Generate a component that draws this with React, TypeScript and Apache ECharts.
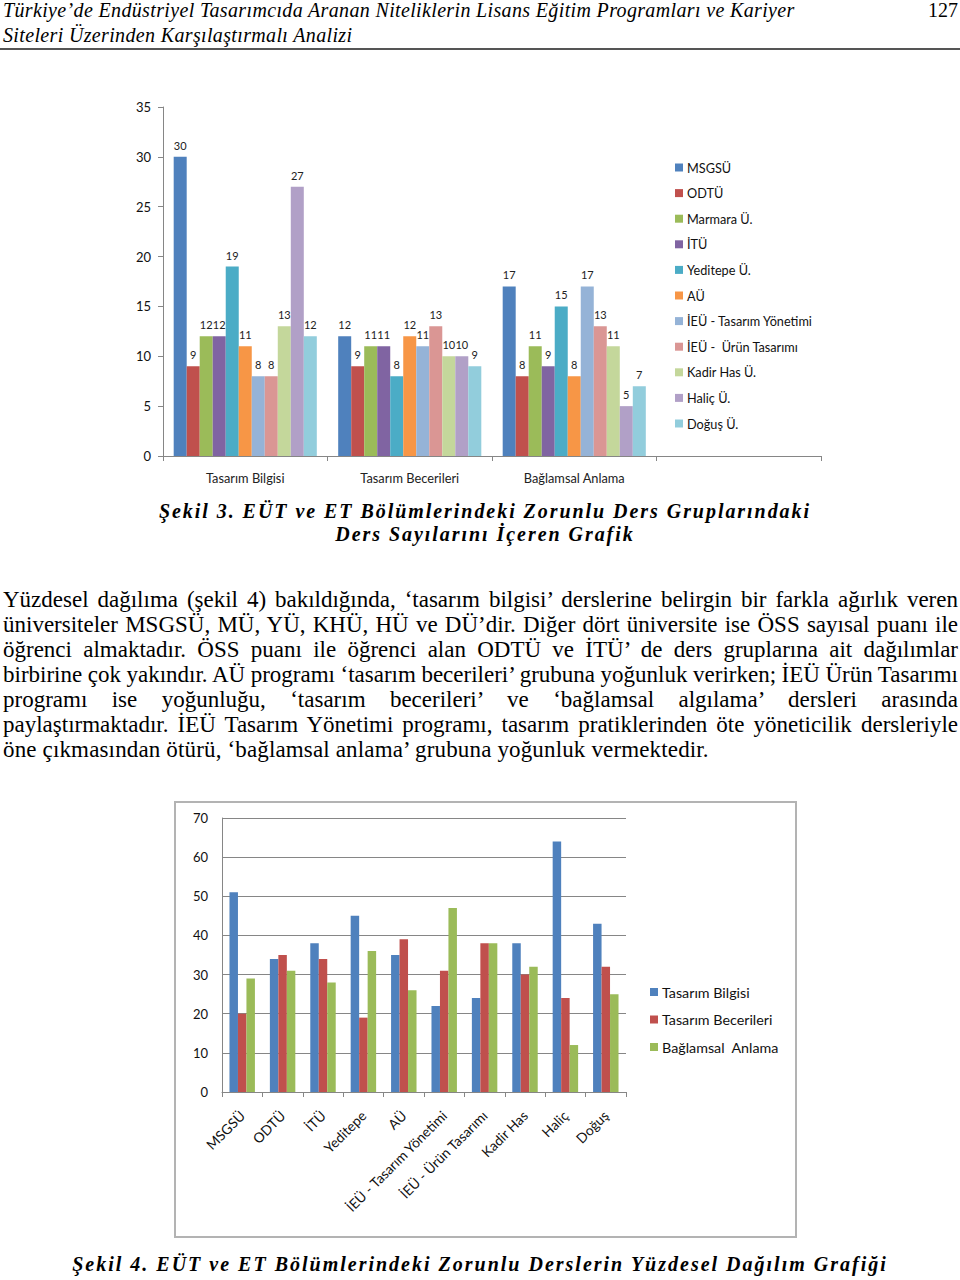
import React, { useEffect, useRef } from "react";
import * as echarts from "echarts";

// ---------- Data: Şekil 3 ----------
const groups1 = ["Tasarım Bilgisi", "Tasarım Becerileri", "Bağlamsal Anlama", ""];
const unis1 = [
  "MSGSÜ",
  "ODTÜ",
  "Marmara Ü.",
  "İTÜ",
  "Yeditepe Ü.",
  "AÜ",
  "İEÜ - Tasarım Yönetimi",
  "İEÜ -  Ürün Tasarımı",
  "Kadir Has Ü.",
  "Haliç Ü.",
  "Doğuş Ü.",
];
const tasarimBilgisi1 = [30, 9, 12, 12, 19, 11, 8, 8, 13, 27, 12];
const tasarimBecerileri1 = [12, 9, 11, 11, 8, 12, 11, 13, 10, 10, 9];
const baglamsalAnlama1 = [17, 8, 11, 9, 15, 8, 17, 13, 11, 5, 7];
const colors1 = [
  "#4F81BD",
  "#C0504D",
  "#9BBB59",
  "#8064A2",
  "#4BACC6",
  "#F79646",
  "#95B3D7",
  "#DA9694",
  "#C4D79B",
  "#B1A0C7",
  "#92CDDC",
];
const yMax1 = 35;
const yStep1 = 5;

// ---------- Data: Şekil 4 ----------
const unis2 = [
  "MSGSÜ",
  "ODTÜ",
  "İTÜ",
  "Yeditepe",
  "AÜ",
  "İEÜ - Tasarım Yönetimi",
  "İEÜ - Ürün Tasarımı",
  "Kadir Has",
  "Haliç",
  "Doğuş",
];
const seriesNames2 = ["Tasarım Bilgisi", "Tasarım Becerileri", "Bağlamsal  Anlama"];
const bilgisi2 = [51, 34, 38, 45, 35, 22, 24, 38, 64, 43];
const becerileri2 = [20, 35, 34, 19, 39, 31, 38, 30, 24, 32];
const anlama2 = [29, 31, 28, 36, 26, 47, 38, 32, 12, 25];
const colors2 = ["#4F81BD", "#C0504D", "#9BBB59"];
const yMax2 = 70;
const yStep2 = 10;

// ---------- Texts ----------
const headerLines = [
  "Türkiye’de Endüstriyel Tasarımcıda Aranan Niteliklerin Lisans Eğitim Programları ve Kariyer",
  "Siteleri Üzerinden Karşılaştırmalı Analizi",
];
const pageNo = "127";
const caption3 = [
  "Şekil 3. EÜT ve ET Bölümlerindeki Zorunlu Ders Gruplarındaki",
  "Ders Sayılarını İçeren Grafik",
];
const paragraphLines = [
  "Yüzdesel dağılıma (şekil 4) bakıldığında, ‘tasarım bilgisi’ derslerine belirgin bir farkla ağırlık veren",
  "üniversiteler MSGSÜ, MÜ, YÜ, KHÜ, HÜ ve DÜ’dir. Diğer dört üniversite ise ÖSS sayısal puanı ile",
  "öğrenci almaktadır. ÖSS puanı ile öğrenci alan ODTÜ ve İTÜ’ de ders gruplarına ait dağılımlar",
  "birbirine çok yakındır. AÜ programı ‘tasarım becerileri’ grubuna yoğunluk verirken; İEÜ Ürün Tasarımı",
  "programı ise yoğunluğu, ‘tasarım becerileri’ ve ‘bağlamsal algılama’ dersleri arasında",
  "paylaştırmaktadır. İEÜ Tasarım Yönetimi programı, tasarım pratiklerinden öte yöneticilik dersleriyle",
  "öne çıkmasından ötürü, ‘bağlamsal anlama’ grubuna yoğunluk vermektedir.",
];
const caption4 = "Şekil 4. EÜT ve ET Bölümlerindeki Zorunlu Derslerin Yüzdesel Dağılım Grafiği";

const FONT = "Lato, 'Open Sans', sans-serif";
const SERIF = "'Liberation Serif', 'DejaVu Serif', serif";

function useChart(option: any) {
  const ref = useRef<HTMLDivElement | null>(null);
  useEffect(() => {
    if (!ref.current) return;
    const chart = echarts.init(ref.current, undefined, { renderer: "svg" });
    chart.setOption(option);
    return () => chart.dispose();
  }, []);
  return ref;
}

function Chart1() {
  const series = unis1.map((name, i) => ({
    name,
    type: "bar",
    data: [tasarimBilgisi1[i], tasarimBecerileri1[i], baglamsalAnlama1[i], null],
    itemStyle: { color: colors1[i] },
    barGap: "0%",
    barCategoryGap: "13%",
    label: {
      show: true,
      position: "top",
      distance: 6,
      fontSize: 11,
      color: "#222",
      fontFamily: FONT,
    },
  }));
  const option = {
    animation: false,
    color: colors1,
    grid: { left: 163, top: 17, width: 658, height: 349 },
    legend: {
      orient: "vertical",
      left: 670,
      top: 66,
      icon: "rect",
      itemWidth: 8,
      itemHeight: 8,
      itemGap: 12.6,
      textStyle: { fontSize: 12.7, lineHeight: 12.5, color: "#111", fontFamily: FONT, padding: [0, 0, 0, -1] },
      data: unis1,
    },
    xAxis: {
      type: "category",
      data: groups1,
      axisLine: { lineStyle: { color: "#868686", width: 1 } },
      axisTick: { show: true, length: 5, lineStyle: { color: "#868686" } },
      axisLabel: { fontSize: 12.8, color: "#222", margin: 15, fontFamily: FONT },
    },
    yAxis: {
      type: "value",
      min: 0,
      max: yMax1,
      interval: yStep1,
      axisLine: { show: true, lineStyle: { color: "#868686" } },
      axisTick: { show: true, length: 5, lineStyle: { color: "#868686" } },
      splitLine: { show: false },
      axisLabel: { fontSize: 13, color: "#111", margin: 12, fontFamily: FONT },
    },
    series,
  };
  const ref = useChart(option);
  return (
    <div
      ref={ref}
      style={{ position: "absolute", left: 0, top: 90, width: 960, height: 410 }}
    />
  );
}

function Chart2() {
  const datas = [bilgisi2, becerileri2, anlama2];
  const series = seriesNames2.map((name, i) => ({
    name,
    type: "bar",
    data: datas[i],
    itemStyle: { color: colors2[i] },
    barGap: "0%",
    barCategoryGap: "37%",
  }));
  const option = {
    animation: false,
    color: colors2,
    grid: { left: 47, top: 16, width: 404, height: 274 },
    legend: {
      orient: "vertical",
      left: 470,
      top: 178,
      icon: "rect",
      itemWidth: 8,
      itemHeight: 8,
      itemGap: 13.5,
      textStyle: { fontSize: 14.3, lineHeight: 14, color: "#111", fontFamily: FONT, padding: [0, 0, 0, -1] },
      data: seriesNames2,
    },
    xAxis: {
      type: "category",
      data: unis2,
      axisLine: { lineStyle: { color: "#868686" } },
      axisTick: { show: true, length: 5, lineStyle: { color: "#868686" } },
      axisLabel: {
        fontSize: 13.8,
        color: "#111",
        rotate: 45,
        margin: 21,
        interval: 0,
        fontFamily: FONT,
      },
    },
    yAxis: {
      type: "value",
      min: 0,
      max: yMax2,
      interval: yStep2,
      axisLine: { show: true, lineStyle: { color: "#868686" } },
      axisTick: { show: false },
      splitLine: { show: true, lineStyle: { color: "#868686", width: 1 } },
      axisLabel: { fontSize: 13, color: "#111", margin: 14, fontFamily: FONT },
    },
    series,
  };
  const ref = useChart(option);
  return (
    <>
      <div
        ref={ref}
        style={{ position: "absolute", left: 175, top: 802, width: 621, height: 435 }}
      />
      <div
        style={{
          position: "absolute",
          left: 174,
          top: 801,
          width: 623,
          height: 437,
          boxSizing: "border-box",
          border: "2px solid #b3b3b3",
          pointerEvents: "none",
        }}
      />
    </>
  );
}

export default function App() {
  const lineStyle: React.CSSProperties = {
    position: "absolute",
    left: 3,
    width: 955,
    fontFamily: SERIF,
    fontSize: 23,
    lineHeight: "25px",
    height: 25,
    color: "#000",
    whiteSpace: "nowrap",
  };
  return (
    <div
      style={{
        position: "absolute",
        left: 0,
        top: 0,
        width: 960,
        height: 1280,
        background: "#fff",
        overflow: "hidden",
      }}
    >
      {headerLines.map((t, i) => (
        <div
          key={i}
          style={{
            position: "absolute",
            left: 3,
            top: -2 + i * 25,
            fontFamily: SERIF,
            fontStyle: "italic",
            fontSize: 20,
            lineHeight: "25px",
            letterSpacing: 0.35,
            whiteSpace: "nowrap",
            color: "#000",
          }}
        >
          {t}
        </div>
      ))}
      <div
        style={{
          position: "absolute",
          right: 2,
          top: -2,
          fontFamily: SERIF,
          fontSize: 20,
          lineHeight: "25px",
          color: "#000",
        }}
      >
        {pageNo}
      </div>
      <div
        style={{
          position: "absolute",
          left: 0,
          top: 48,
          width: 960,
          height: 2,
          background: "#555",
        }}
      />

      <Chart1 />

      {caption3.map((t, i) => (
        <div
          key={i}
          style={{
            position: "absolute",
            left: 0,
            width: 970,
            top: 499 + i * 23,
            textAlign: "center",
            fontFamily: SERIF,
            fontStyle: "italic",
            fontWeight: "bold",
            fontSize: 20,
            lineHeight: "24px",
            letterSpacing: 1.95,
            whiteSpace: "nowrap",
            color: "#000",
          }}
        >
          {t}
        </div>
      ))}

      {paragraphLines.map((t, i) => {
        const last = i === paragraphLines.length - 1;
        return (
          <div
            key={i}
            style={{
              ...lineStyle,
              top: 587 + i * 25,
              textAlign: last ? "left" : "justify",
              textAlignLast: last ? "left" : "justify",
              wordSpacing: last ? 0 : -1.5,
              letterSpacing: last ? 0.15 : 0,
            }}
          >
            {t}
          </div>
        );
      })}

      <Chart2 />

      <div
        style={{
          position: "absolute",
          left: 0,
          width: 960,
          top: 1252,
          textAlign: "center",
          fontFamily: SERIF,
          fontStyle: "italic",
          fontWeight: "bold",
          fontSize: 20,
          lineHeight: "24px",
          letterSpacing: 2.0,
          whiteSpace: "nowrap",
          color: "#000",
        }}
      >
        {caption4}
      </div>
    </div>
  );
}
